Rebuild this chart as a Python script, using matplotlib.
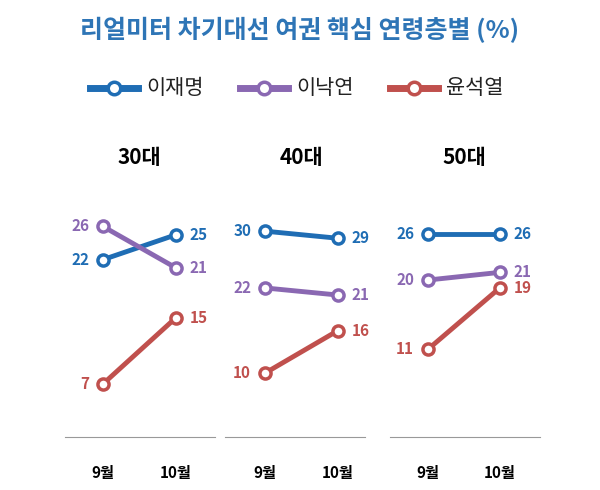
import matplotlib.pyplot as plt

plt.rcParams["font.family"] = "Noto Sans CJK KR"

months = ["9월", "10월"]
panels = ["30대", "40대", "50대"]
names = ["이재명", "이낙연", "윤석열"]
colors = ["#1f6db4", "#8a68b2", "#c0504d"]
lee_jm = [[22, 25], [30, 29], [26, 26]]
lee_ny = [[26, 21], [22, 21], [20, 21]]
yoon = [[7, 15], [10, 16], [11, 19]]
series = [lee_jm, lee_ny, yoon]

W, H = 600, 490
fig = plt.figure(figsize=(6, 4.9), dpi=100)

# panel geometry in pixels: left, right, x of 9월, x of 10월, ylim
geo = [(65, 215, 103, 176, (0.6, 30.4)),
       (225, 365, 265, 338, (1.0, 35.8)),
       (390, 540, 428, 500, (-0.4, 31.7))]
top, bottom = 190, 437

for p, (l, r, x0, x1, yl) in enumerate(geo):
    ax = fig.add_axes([l / W, 1 - bottom / H, (r - l) / W, (bottom - top) / H])
    unit = x1 - x0
    ax.set_xlim(-(x0 - l) / unit, 1 + (r - x1) / unit)
    ax.set_ylim(*yl)
    for s, c in zip(series, colors):
        v = s[p]
        ax.plot([0, 1], v, color=c, lw=3.5, marker="o", ms=8,
                mfc="white", mec=c, mew=2.5)
        ax.annotate(str(v[0]), (0, v[0]), xytext=(-10, 0), textcoords="offset points",
                    ha="right", va="center", color=c, fontsize=11,
                    fontweight="bold", style="italic")
        ax.annotate(str(v[1]), (1, v[1]), xytext=(10, 0), textcoords="offset points",
                    ha="left", va="center", color=c, fontsize=11,
                    fontweight="bold", style="italic")
    for sp in ["top", "left", "right"]:
        ax.spines[sp].set_visible(False)
    ax.spines["bottom"].set_color("#999999")
    ax.set_xticks([])
    ax.set_yticks([])
    fig.text((x0 + x1) / 2 / W, 1 - 158 / H, panels[p], ha="center", va="center",
             fontsize=15, fontweight="bold", style="italic")
    for xm, m in zip([x0, x1], months):
        fig.text(xm / W, 1 - 473 / H, m, ha="center", va="center",
                 fontsize=11, fontweight="bold", style="italic")

fig.text(0.5, 1 - 30 / H, "리얼미터 차기대선 여권 핵심 연령층별 (%)", ha="center",
         va="center", color="#2e75b6", fontsize=18, fontweight="bold", style="italic")

# legend
for (lx, name), c in zip([(90, names[0]), (240, names[1]), (390, names[2])], colors):
    fig.add_artist(plt.Line2D([lx / W, (lx + 48) / W], [1 - 88 / H] * 2, color=c, lw=5))
    fig.add_artist(plt.Line2D([(lx + 24) / W], [1 - 88 / H], marker="o", ms=9,
                              mfc="white", mec=c, mew=2.5))
    fig.text((lx + 56) / W, 1 - 88 / H, name, ha="left", va="center",
             fontsize=15, color="#222222")

fig.savefig("out.png")
